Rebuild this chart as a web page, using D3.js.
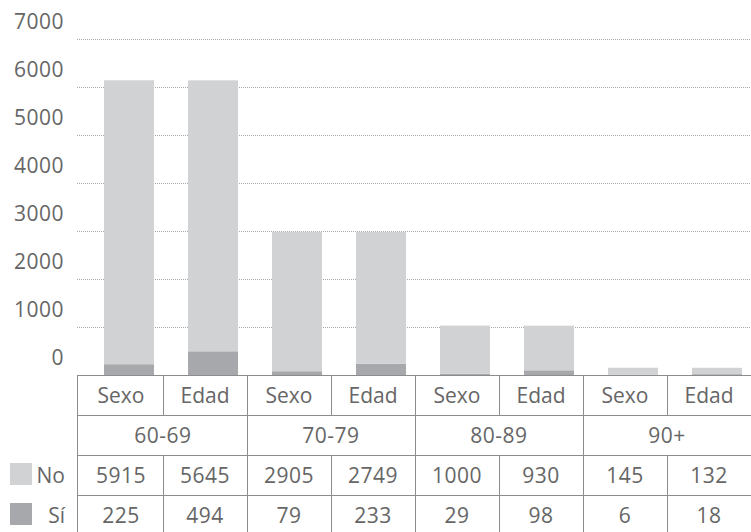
<!DOCTYPE html>
<meta charset="utf-8">
<style>
  body { margin: 0; background: #fff; }
  text { font-family: "Open Sans", sans-serif; font-size: 21px; fill: #666; }
  .num { letter-spacing: 0.5px; }
  .grid line { stroke: #a8a8a8; stroke-dasharray: 1,1; }
  .cell { stroke: #8c8c8c; stroke-width: 1; shape-rendering: crispEdges; }
</style>
<body>
<script src="https://d3js.org/d3.v7.min.js"></script>
<script>
  // data
  var groups = ["60-69", "70-79", "80-89", "90+"];
  var criteria = ["Sexo", "Edad"];
  var noValues = [5915, 5645, 2905, 2749, 1000, 930, 145, 132];
  var siValues = [225, 494, 79, 233, 29, 98, 6, 18];
  var yTicks = [0, 1000, 2000, 3000, 4000, 5000, 6000, 7000];
  var seriesNames = ["Sí", "No"];
  var seriesColors = ["#a7a8ab", "#d1d2d4"];

  var width = 751, height = 532;

  var rows = [];
  groups.forEach(function(g, gi) {
    criteria.forEach(function(c, ci) {
      var i = gi * criteria.length + ci;
      rows.push({ key: g + "|" + c, group: g, crit: c, "Sí": siValues[i], "No": noValues[i] });
    });
  });

  var svg = d3.select("body").append("svg")
      .attr("width", width)
      .attr("height", height);

  var y = d3.scaleLinear().domain([0, 7000]).range([375, 39]);

  // bars
  var x = d3.scaleBand()
      .domain(rows.map(function(d) { return d.key; }))
      .range([87, 759])
      .paddingInner(0.405)
      .paddingOuter(0.2025);

  // table columns
  var tx = d3.scaleBand()
      .domain(rows.map(function(d) { return d.key; }))
      .range([79, 751]);

  var gridLeft = 77;

  svg.append("g").attr("class", "grid")
    .selectAll("line")
    .data(yTicks.filter(function(t) { return t > 0; }))
    .enter().append("line")
      .attr("x1", gridLeft).attr("x2", width)
      .attr("y1", function(d) { return Math.round(y(d)) + 0.5; })
      .attr("y2", function(d) { return Math.round(y(d)) + 0.5; });

  svg.append("g")
    .selectAll("text")
    .data(yTicks)
    .enter().append("text")
      .attr("class", "num")
      .attr("x", 64)
      .attr("y", function(d) { return y(d) - 10; })
      .attr("text-anchor", "end")
      .text(function(d) { return d; });

  var stack = d3.stack().keys(seriesNames)(rows);

  svg.append("g")
    .selectAll("g")
    .data(stack)
    .enter().append("g")
      .attr("fill", function(d, i) { return seriesColors[i]; })
    .selectAll("rect")
    .data(function(d) { return d; })
    .enter().append("rect")
      .attr("x", function(d) { return x(d.data.key); })
      .attr("width", x.bandwidth())
      .attr("y", function(d) { return y(d[1]); })
      .attr("height", function(d) { return y(d[0]) - y(d[1]); });

  // table
  var rowTop = [375, 415, 455, 495, 535];
  var table = svg.append("g");

  rowTop.slice(0, 4).forEach(function(ty) {
    table.append("line").attr("class", "cell")
      .attr("x1", gridLeft).attr("x2", width)
      .attr("y1", ty + 0.5).attr("y2", ty + 0.5);
  });

  table.append("line").attr("class", "cell")
    .attr("x1", gridLeft + 0.5).attr("x2", gridLeft + 0.5)
    .attr("y1", rowTop[0]).attr("y2", height);

  // inner vertical lines
  rows.forEach(function(d, i) {
    if (i === 0) return;
    var vx = Math.round(tx(d.key)) + 0.5;
    var isGroupEdge = i % criteria.length === 0;
    var segs = isGroupEdge ? [[rowTop[0], height]] : [[rowTop[0], rowTop[1]], [rowTop[2], height]];
    segs.forEach(function(s) {
      table.append("line").attr("class", "cell")
        .attr("x1", vx).attr("x2", vx)
        .attr("y1", s[0]).attr("y2", s[1]);
    });
  });

  function mid(r) { return (rowTop[r] + rowTop[r + 1]) / 2; }
  var cx = function(d) { return tx(d.key) + tx.bandwidth() / 2; };

  table.selectAll(".crit").data(rows).enter().append("text")
    .attr("x", cx).attr("y", mid(0)).attr("dy", "0.36em")
    .attr("text-anchor", "middle")
    .text(function(d) { return d.crit; });

  table.selectAll(".grp").data(groups).enter().append("text")
    .attr("class", "num")
    .attr("x", function(g) { return tx(g + "|" + criteria[0]) + tx.bandwidth() * criteria.length / 2; })
    .attr("y", mid(1)).attr("dy", "0.36em")
    .attr("text-anchor", "middle")
    .text(function(g) { return g; });

  table.selectAll(".no").data(rows).enter().append("text")
    .attr("class", "num")
    .attr("x", cx).attr("y", mid(2)).attr("dy", "0.36em")
    .attr("text-anchor", "middle")
    .text(function(d) { return d["No"]; });

  table.selectAll(".si").data(rows).enter().append("text")
    .attr("class", "num")
    .attr("x", cx).attr("y", mid(3)).attr("dy", "0.36em")
    .attr("text-anchor", "middle")
    .text(function(d) { return d["Sí"]; });

  // legend inside the table rows
  var legend = [{ name: "No", color: seriesColors[1], row: 2 }, { name: "Sí", color: seriesColors[0], row: 3 }];
  legend.forEach(function(l) {
    svg.append("rect")
      .attr("x", 10).attr("y", mid(l.row) - 12)
      .attr("width", 22).attr("height", 22)
      .attr("fill", l.color);
    svg.append("text")
      .attr("x", 65).attr("y", mid(l.row)).attr("dy", "0.36em")
      .attr("text-anchor", "end")
      .text(l.name);
  });
</script>
</body>
